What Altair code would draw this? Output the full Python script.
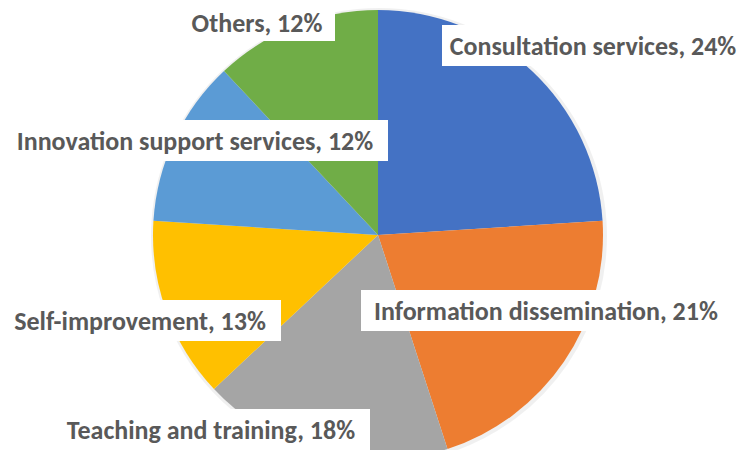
import altair as alt
import pandas as pd

# ---- data ----
categories = ["Consultation services", "Information dissemination", "Teaching and training",
              "Self-improvement", "Innovation support services", "Others"]
values = [24, 21, 18, 13, 12, 12]
colors = ["#4472C4", "#ED7D31", "#A5A5A5", "#FFC000", "#5B9BD5", "#70AD47"]

# ---- layout (page pixels; the page has an 8px margin) ----
M = 8
CX, CY, R = 378 - M, 235 - M, 225
# label boxes: left, right, top, bottom ; text centre x and baseline y
box_l = [442, 361, 50, -10, -10, 181]
box_r = [760, 733, 370, 281, 388, 335]
box_t = [25, 290, 409, 300, 120, -10]
box_b = [66, 331, 450, 341, 161, 41]
txt_x = [593, 546, 211, 140, 195, 257]
txt_y = [55, 320, 439, 330, 150, 32]

df = pd.DataFrame({"category": categories, "value": values, "order": list(range(len(values)))})

lab = pd.DataFrame({
    "label": [f"{c}, {v}%" for c, v in zip(categories, values)],
    "x0": [v - M for v in box_l], "x1": [v - M for v in box_r],
    "y0": [v - M for v in box_t], "y1": [v - M for v in box_b],
    "tx": [v - M for v in txt_x], "ty": [v - M for v in txt_y],
})

shadow = alt.Chart(df).mark_arc(outerRadius=R + 3, color="#000000", opacity=0.06).encode(
    theta=alt.Theta("value:Q", stack=True),
    order=alt.Order("order:Q"),
    x=alt.value(CX + 1), y=alt.value(CY + 1),
)

pie = alt.Chart(df).mark_arc(outerRadius=R).encode(
    theta=alt.Theta("value:Q", stack=True),
    color=alt.Color("category:N", scale=alt.Scale(domain=categories, range=colors), legend=None),
    order=alt.Order("order:Q"),
    x=alt.value(CX), y=alt.value(CY),
)

boxes = alt.Chart(lab).mark_rect(color="white").encode(
    x=alt.X("x0:Q", scale=None, axis=None), x2="x1:Q",
    y=alt.Y("y0:Q", scale=None, axis=None), y2="y1:Q",
)

texts = alt.Chart(lab).mark_text(
    font="Carlito, 'Liberation Sans Narrow', 'Arial Narrow', 'Open Sans', sans-serif",
    fontSize=26, fontWeight="bold", color="#595959", align="center", baseline="alphabetic",
).encode(
    x=alt.X("tx:Q", scale=None, axis=None),
    y=alt.Y("ty:Q", scale=None, axis=None),
    text="label:N",
)

chart = alt.layer(shadow, pie, boxes, texts).properties(
    width=747 - 2 * M, height=458 - 2 * M,
    autosize=alt.AutoSizeParams(type="none"), padding=0,
).configure_view(stroke=None)

chart.save("out.html", embed_options={"renderer": "svg", "actions": False})
